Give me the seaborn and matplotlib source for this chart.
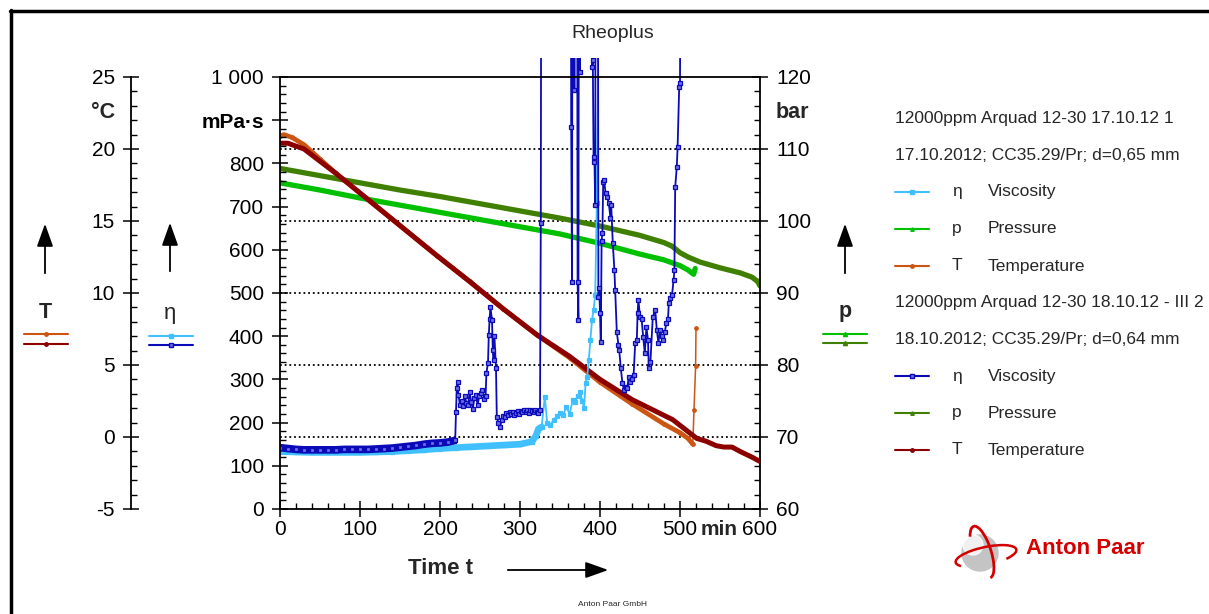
import matplotlib
matplotlib.use("Agg")
import matplotlib.pyplot as plt
import seaborn as sns
from matplotlib.lines import Line2D
from matplotlib.patches import Circle, Arc, FancyArrowPatch
from matplotlib.transforms import Bbox, TransformedBbox, IdentityTransform, blended_transform_factory
from matplotlib.ticker import MultipleLocator

W, H = 1209, 614

# ---- series 1: 17.10.12 ----
t_visc1 = [0, 20, 40, 60, 80, 100, 120, 140, 160, 180,
           200, 220, 240, 260, 280, 300, 315, 320, 323, 327,
           331, 334, 338, 342, 346, 350, 354, 358, 362, 366,
           369, 372, 375, 378, 380, 382, 384, 386, 388, 390,
           392, 394, 396, 398, 420, 460, 500, 518]
visc1 = [133, 132, 131, 131, 131, 131, 132, 133, 135, 137,
         140, 142, 144, 146, 148, 150, 156, 170, 185, 190,
         259, 200, 195, 206, 215, 222, 218, 236, 220, 252,
         248, 262, 271, 250, 234, 291, 306, 345, 391, 437,
         461, 495, 708, 1100, 1400, 1400, 1400, 1400]

t_pres1 = [0, 50, 100, 150, 200, 250, 300, 350, 400, 450, 480, 500, 510, 517, 519]
pres1 = [105.3, 104.3, 103.2, 102.2, 101.2, 100.2, 99.2, 98.2, 96.9, 95.4, 94.6, 93.8, 93.2, 92.6, 93.4]

t_temp1 = [0, 5, 15, 30, 50, 70, 112, 154, 196, 237, 279, 321, 362, 400, 440, 480, 500, 510, 516,
           517.5, 519.5, 520]
temp1 = [20.9, 21.0, 20.8, 20.3, 19.3, 18.3, 16.4, 14.5, 12.6, 10.8, 8.9, 7.1, 5.5, 3.8, 2.3, 0.9, 0.3, -0.1, -0.5,
         1.9, 4.9, 7.6]

# ---- series 2: 18.10.12 - III ----
t_visc2 = [0, 10, 20, 30, 40, 50, 60, 70, 80, 90, 100, 110, 120, 130, 140, 150, 160, 170, 180, 190, 200, 210, 217,
           219, 220, 221, 222, 223, 225, 227, 229, 231, 233, 235, 237, 239, 241, 243, 245, 247, 249, 251, 253, 255,
           257, 258, 260, 261, 262, 263, 265, 266, 267, 268, 270, 271, 273, 275, 277, 279, 281, 283, 285, 287, 289,
           291, 293, 295, 297, 299, 301, 303, 305, 307, 309, 311, 313, 315, 317, 319, 321, 323, 325, 326, 327,
           363, 364, 365, 366, 368, 369, 371, 372, 373, 374, 375, 376, 389, 390, 391, 392, 393, 394, 395, 397,
           398, 399, 400, 401, 402, 403, 404, 405, 407, 409, 411, 413, 414, 416, 418, 419, 421, 423, 424, 426,
           428, 430, 432, 434, 436, 438, 440, 442, 444, 446, 447, 448, 450, 452, 454, 456, 458, 460, 461, 463,
           466, 469, 471, 473, 475, 477, 479, 481, 483, 485, 486, 488, 490, 492, 493, 494, 496, 497, 499, 500, 502]
visc2 = [142, 140, 138, 137, 137, 137, 137, 137, 138, 138, 138, 138, 139, 140, 141, 143, 145, 147, 150, 152, 153, 155, 158,
         160, 225, 280, 295, 265, 240, 250, 238, 262, 245, 240, 270, 248, 232, 258, 265, 240, 262, 268, 275, 255,
         262, 315, 338, 403, 440, 468, 437, 368, 345, 400, 326, 214, 199, 190, 205, 215, 212, 222, 218, 225, 220,
         224, 218, 222, 226, 221, 228, 225, 230, 224, 229, 222, 230, 226, 224, 230, 225, 223, 229, 663, 2000,
         2000, 884, 525, 2000, 970, 2000, 2000, 525, 437, 2000, 1012, 2000, 2000, 1023, 1040, 803, 815, 704, 2000, 2000,
         491, 512, 454, 386, 620, 640, 757, 762, 731, 722, 708, 674, 704, 615, 553, 507, 410, 380, 368, 326,
         292, 275, 282, 280, 306, 295, 300, 310, 384, 391, 454, 484, 445, 440, 398, 361, 421, 391, 326, 340,
         445, 461, 415, 384, 415, 400, 391, 410, 430, 440, 476, 488, 495, 530, 553, 745, 792, 838, 977, 986, 2000]

t_pres2 = [0, 50, 100, 150, 200, 250, 300, 350, 400, 450, 480, 490, 500, 510, 525, 550, 575, 590, 597, 600]
pres2 = [107.3, 106.3, 105.3, 104.3, 103.4, 102.4, 101.4, 100.4, 99.3, 98.0, 97.0, 96.5, 95.6, 95.0, 94.3, 93.5,
         92.8, 92.2, 91.6, 91.0]

t_temp2 = [0, 10, 30, 70, 112, 154, 196, 237, 279, 321, 362, 400, 440, 491, 521, 533, 545, 555, 565, 575, 590, 600]
temp2 = [20.4, 20.4, 20.0, 18.3, 16.4, 14.5, 12.6, 10.8, 8.9, 7.1, 5.6, 4.0, 2.6, 1.2, -0.1, -0.3, -0.6, -0.7, -0.7,
         -1.0, -1.4, -1.7]

assert len(t_visc2) == len(visc2)

# ---- axis ticks ----
x_ticks = [0, 100, 200, 300, 400, 500, 600]
x_tick_labels = ["0", "100", "200", "300", "400", "500", "600"]
visc_ticks = [0, 100, 200, 300, 400, 500, 600, 700, 800, 900, 1000]
visc_tick_labels = ["0", "100", "200", "300", "400", "500", "600", "700", "800", "mPa·s", "1 000"]
pres_ticks = [60, 70, 80, 90, 100, 110, 120]
pres_grid = [70, 80, 90, 100, 110]
temp_ticks = [-5, 0, 5, 10, 15, 20, 25]
temp_tick_labels = ["-5", "0", "5", "10", "15", "20", "25"]

legend_head1 = ["12000ppm Arquad 12-30 17.10.12 1", "17.10.2012; CC35.29/Pr; d=0,65 mm"]
legend_head2 = ["12000ppm Arquad 12-30 18.10.12 - III 2", "18.10.2012; CC35.29/Pr; d=0,64 mm"]
legend_sym = ["η", "p", "T"]
legend_names = ["Viscosity", "Pressure", "Temperature"]

C_VIS1, C_PRE1, C_TEM1 = "#40c0ff", "#00c000", "#cc5511"
C_VIS2, C_PRE2, C_TEM2 = "#0a0ab8", "#3f8000", "#8c0000"
MFC2 = "#6e6ee6"
RED = "#d40000"

sns.set_theme(style="ticks")
plt.rcParams['font.family'] = ['Liberation Sans', 'DejaVu Sans']
plt.rcParams['axes.unicode_minus'] = False


def fx(x):
    return x / W


def fy(y):
    return 1 - y / H


fig = plt.figure(figsize=(W / 100, H / 100), dpi=100)
fig.patch.set_facecolor("white")
ax = fig.add_axes([fx(280), fy(509), 480 / W, 432 / H])
ax_p = ax.twinx()
ax_T = ax.twinx()
ax_p.set_zorder(1)
ax_T.set_zorder(2)
ax.set_zorder(3)
for a in (ax, ax_p, ax_T):
    a.patch.set_visible(False)


def draw(axis, t, v, color, lw, marker=None, ms=0, mfc=None, mec=None):
    sns.lineplot(x=t, y=v, ax=axis, color=color, linewidth=lw, marker=marker, markersize=ms,
                 markerfacecolor=mfc or color, markeredgecolor=mec or color, markeredgewidth=0.9,
                 sort=False, estimator=None, legend=False)


# pressure (back)
for g in pres_grid:
    ax_p.axhline(g, color="black", lw=1.3, ls=(0, (1, 1.6)), zorder=0)
draw(ax_p, t_pres1, pres1, C_PRE1, 3.8)
draw(ax_p, t_pres2, pres2, C_PRE2, 3.8)

# temperature
draw(ax_T, t_temp1[:19], temp1[:19], C_TEM1, 3.4)
draw(ax_T, t_temp1, temp1, C_TEM1, 1.1, "o", 2.5)
draw(ax_T, t_temp2, temp2, C_TEM2, 3.6)

# viscosity (front)
draw(ax, t_visc1[:20], visc1[:20], C_VIS1, 4.8)
draw(ax, t_visc1, visc1, C_VIS1, 1.3, "s", 3.2)
draw(ax, t_visc2[:23], visc2[:23], C_VIS2, 5.5)
draw(ax, t_visc2, visc2, C_VIS2, 1.3, "s", 3.3, MFC2, C_VIS2)

clip = TransformedBbox(Bbox([[0, 0], [1, 1.044]]), ax.transAxes)
for ln in ax.lines:
    ln.set_clip_box(clip)

# ---- axes styling ----
ax.set_xlim(0, 600)
ax.set_ylim(0, 1000)
ax_p.set_ylim(60, 120)
ax_T.set_ylim(-5, 25)
ax.set_xlabel("")
ax.set_ylabel("")
ax_p.set_ylabel("")
ax_T.set_ylabel("")

ax.set_xticks(x_ticks)
ax.set_xticklabels(x_tick_labels)
ax.xaxis.set_minor_locator(MultipleLocator(20))
ax.set_yticks(visc_ticks)
lbls = ax.set_yticklabels(visc_tick_labels)
lbls[9].set_fontweight("bold")
lbls[9].set_fontsize(15.5)
ax.yaxis.set_minor_locator(MultipleLocator(20))

ax_p.set_yticks(pres_ticks)
ax_p.yaxis.set_minor_locator(MultipleLocator(2))
ax_T.set_yticks(temp_ticks)
ax_T.set_yticklabels(temp_tick_labels)
ax_T.yaxis.set_minor_locator(MultipleLocator(1))

for a in (ax, ax_p, ax_T):
    a.tick_params(which="major", direction="inout", length=12, width=1.1, pad=5.5, labelsize=15,
                  color="black", labelcolor="black")
    a.tick_params(which="minor", direction="in", length=4, width=1.0, color="black")
    for s in a.spines.values():
        s.set_linewidth(1.3)
        s.set_color("black")
ax.tick_params(axis="x", which="major", pad=2)
ax.tick_params(which="both", top=False, right=False)
ax.spines["right"].set_visible(False)

for s in ("left", "top", "bottom"):
    ax_p.spines[s].set_visible(False)
ax_p.tick_params(which="both", left=False, labelleft=False)

spine_T = (131 - 280) / 480
ax_T.spines["left"].set_position(("axes", spine_T))
ax_T.spines["left"].set_visible(True)
for s in ("right", "top", "bottom"):
    ax_T.spines[s].set_visible(False)
ax_T.yaxis.set_ticks_position("left")
ax_T.yaxis.set_label_position("left")

ax.annotate("min", xy=(549, 0), xycoords=("data", "axes fraction"), xytext=(0, -8),
            textcoords="offset points", ha="center", va="top", fontsize=15, fontweight="bold")
ax_T.annotate("°C", xy=(spine_T, 22.5), xycoords=blended_transform_factory(ax.transAxes, ax_T.transData),
              xytext=(-11.5, 0), textcoords="offset points", ha="right", va="center",
              fontsize=15.5, fontweight="bold")
ax_p.annotate("bar", xy=(1, 115), xycoords=blended_transform_factory(ax.transAxes, ax_p.transData),
              xytext=(11.5, 0), textcoords="offset points", ha="left", va="center",
              fontsize=15.5, fontweight="bold")

# ---- figure texts ----
fig.text(fx(613), fy(33), "Rheoplus", ha="center", va="center", fontsize=14)
fig.text(fx(441), fy(568), "Time t", ha="center", va="center", fontsize=16, fontweight="bold")
fig.text(fx(613), fy(605), "Anton Paar GmbH", ha="center", va="center", fontsize=6)


def arrow(x0, y0, x1, y1):
    fig.add_artist(FancyArrowPatch(
        (fx(x0), fy(y0)), (fx(x1), fy(y1)), transform=fig.transFigure,
        arrowstyle="-|>,head_length=0.7,head_width=0.25", mutation_scale=20, color="black", lw=1.3))


arrow(505, 570, 611, 570)
arrow(45, 276, 45, 221)
arrow(170, 274, 170, 220)
arrow(845, 276, 845, 221)


def sample(x0, x1, y, color, marker, ms, mfc=None):
    fig.add_artist(Line2D([fx(x0), fx((x0 + x1) / 2), fx(x1)], [fy(y)] * 3, transform=fig.transFigure,
                          color=color, lw=1.5, marker=marker, markersize=ms, markevery=[1],
                          markerfacecolor=mfc or color, markeredgecolor=color))


fig.text(fx(45), fy(312), "T", ha="center", va="center", fontsize=15.5, fontweight="bold")
sample(24, 68, 334, C_TEM1, "o", 2.5)
sample(24, 68, 344, C_TEM2, "o", 2.5)
fig.text(fx(170), fy(314), "η", ha="center", va="center", fontsize=16)
sample(149, 193, 336, C_VIS1, "s", 3.5)
sample(149, 193, 345, C_VIS2, "s", 3.5, MFC2)
fig.text(fx(845), fy(312), "p", ha="center", va="center", fontsize=15.5, fontweight="bold")
sample(823, 867, 334, C_PRE1, "^", 3)
sample(823, 867, 343, C_PRE2, "^", 3)

row_y = [119, 156, 192, 229, 266, 303, 340, 376, 413, 450]
groups = [(legend_head1, [C_VIS1, C_PRE1, C_TEM1], [None, None, None]),
          (legend_head2, [C_VIS2, C_PRE2, C_TEM2], [MFC2, None, None])]
markers = ["s", "^", "o"]
i = 0
for heads, cols, mfcs in groups:
    for h in heads:
        fig.text(fx(895), fy(row_y[i]), h, ha="left", va="center", fontsize=12.5)
        i += 1
    for k in range(3):
        sample(895, 929, row_y[i], cols[k], markers[k], 3 if k == 0 else 2.5, mfcs[k])
        fig.text(fx(957), fy(row_y[i]), legend_sym[k], ha="center", va="center", fontsize=12.5)
        fig.text(fx(988), fy(row_y[i]), legend_names[k], ha="left", va="center", fontsize=12.5)
        i += 1

# ---- frame ----
fig.add_artist(Line2D([fx(10), 1], [fy(11), fy(11)], transform=fig.transFigure, color="black", lw=2.5))
fig.add_artist(Line2D([fx(11), fx(11)], [fy(10), 0], transform=fig.transFigure, color="black", lw=2.5))

# ---- logo ----
fig.text(fx(1085), fy(548), "Anton Paar", ha="center", va="center", fontsize=16, fontweight="bold", color=RED)
px = IdentityTransform()
fig.add_artist(Circle((980, H - 553), 18, transform=px, color="#c4c4c4", zorder=5))
fig.add_artist(Circle((973, H - 545), 10, transform=px, color="white", alpha=0.75, zorder=5))
fig.add_artist(Arc((982, H - 552), 18, 54, angle=18, theta1=-90, theta2=110, transform=px,
                   color=RED, lw=2.0, zorder=6))
fig.add_artist(Arc((986, H - 556), 62, 18, angle=12, theta1=-20, theta2=190, transform=px,
                   color=RED, lw=1.8, zorder=6))

fig.savefig("out.png", dpi=100)
